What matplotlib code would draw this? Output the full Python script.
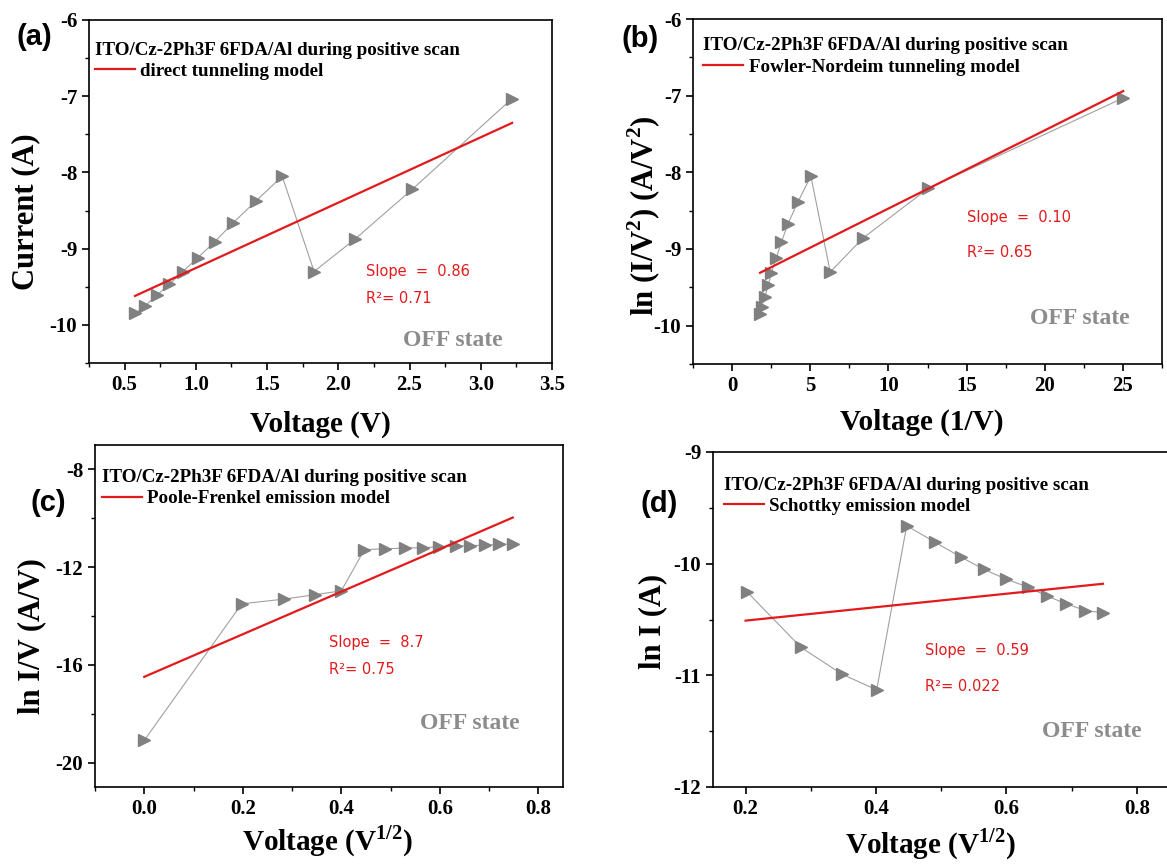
import matplotlib
matplotlib.use('Agg')
import matplotlib.pyplot as plt
from matplotlib.ticker import MultipleLocator, FormatStrFormatter

plt.rcParams['axes.unicode_minus'] = False
plt.rcParams['font.family'] = 'Liberation Serif'
plt.rcParams['font.weight'] = 'bold'
plt.rcParams['mathtext.fontset'] = 'custom'
plt.rcParams['mathtext.rm'] = 'Liberation Serif:bold'
plt.rcParams['mathtext.bf'] = 'Liberation Serif:bold'

# (a) direct tunneling
a_x = [0.573, 0.643, 0.726, 0.812, 0.909, 1.013, 1.132, 1.262, 1.419, 1.606, 1.83, 2.12, 2.52, 3.22]
a_y = [-9.85, -9.75, -9.61, -9.47, -9.30, -9.12, -8.91, -8.66, -8.38, -8.05, -9.30, -8.87, -8.22, -7.03]
a_fit_x = [0.573, 3.22]
a_fit_y = [-9.62, -7.35]

# (b) Fowler-Nordheim
b_x = [1.79, 1.89, 2.10, 2.32, 2.51, 2.82, 3.15, 3.58, 4.20, 5.04, 6.28, 8.36, 12.54, 25.02]
b_y = [-9.85, -9.75, -9.62, -9.47, -9.31, -9.12, -8.91, -8.67, -8.39, -8.05, -9.30, -8.86, -8.21, -7.03]
b_fit_x = [1.79, 25.02]
b_fit_y = [-9.31, -6.94]

# (c) Poole-Frenkel
c_x = [0.0, 0.198, 0.283, 0.346, 0.40, 0.447, 0.489, 0.529, 0.565, 0.599, 0.632, 0.662, 0.692, 0.721, 0.748]
c_y = [-19.09, -13.50, -13.31, -13.13, -12.97, -11.28, -11.25, -11.22, -11.20, -11.17, -11.14, -11.12, -11.10, -11.07, -11.05]
c_fit_x = [0.0, 0.748]
c_fit_y = [-16.49, -9.97]

# (d) Schottky
d_x = [0.2017, 0.285, 0.348, 0.401, 0.447, 0.491, 0.530, 0.565, 0.600, 0.633, 0.662, 0.692, 0.721, 0.748]
d_y = [-10.25, -10.75, -10.99, -11.13, -9.66, -9.81, -9.94, -10.05, -10.14, -10.21, -10.29, -10.36, -10.42, -10.44]
d_fit_x = [0.2, 0.748]
d_fit_y = [-10.51, -10.18]

W, H = 1167, 866
fig = plt.figure(figsize=(W / 100, H / 100), dpi=100)


def box(l, r, t, b):
    return [l / W, 1 - b / H, (r - l) / W, (b - t) / H]


def ftext(x, y, s, **kw):
    fig.text(x / W, 1 - y / H, s, ha='center', va='center', **kw)


panels = [
    dict(rect=box(89, 552, 20, 363), x=a_x, y=a_y, fx=a_fit_x, fy=a_fit_y,
         xlim=(0.25, 3.5), ylim=(-10.5, -6), xmaj=0.5, xmin=0.25, ymaj=1, ymin=0.5, xfmt='%.1f',
         model='direct tunneling model', slope='Slope  =  0.86', r2='R²= 0.71',
         tpos=(0.012, 0.92), spos=(0.599, 0.267, 0.188), opos=(0.678, 0.066),
         tag='(a)', tagxy=(34, 37), ylabel='Current (A)', ylxy=(26, 212),
         xlabel='Voltage (V)', xlxy=(320, 424)),
    dict(rect=box(693, 1162, 19, 364), x=b_x, y=b_y, fx=b_fit_x, fy=b_fit_y,
         xlim=(-2.5, 27.5), ylim=(-10.5, -6), xmaj=5, xmin=2.5, ymaj=1, ymin=0.5, xfmt='%d',
         model='Fowler-Nordeim tunneling model', slope='Slope  =  0.10', r2='R²= 0.65',
         tpos=(0.022, 0.93), spos=(0.585, 0.424, 0.322), opos=(0.719, 0.132),
         tag='(b)', tagxy=(640, 39), ylabel='ln (I/V$^2$) (A/V$^2$)', ylxy=(644, 216),
         xlabel='Voltage (1/V)', xlxy=(922, 422)),
    dict(rect=box(95, 563, 445, 787), x=c_x, y=c_y, fx=c_fit_x, fy=c_fit_y,
         xlim=(-0.1, 0.85), ylim=(-21, -7), xmaj=0.2, xmin=0.1, ymaj=4, ymin=2, xfmt='%.1f',
         model='Poole-Frenkel emission model', slope='Slope  =  8.7', r2='R²= 0.75',
         tpos=(0.014, 0.913), spos=(0.499, 0.422, 0.345), opos=(0.695, 0.186),
         tag='(c)', tagxy=(48, 503), ylabel='ln I/V (A/V)', ylxy=(32, 636),
         xlabel=r'Voltage (V$^{\mathbf{1/2}}$)', xlxy=(328, 841)),
    dict(rect=box(713, 1169.5, 452, 787), x=d_x, y=d_y, fx=d_fit_x, fy=d_fit_y,
         xlim=(0.15, 0.85), ylim=(-12, -9), xmaj=0.2, xmin=0.1, ymaj=1, ymin=0.5, xfmt='%.1f',
         model='Schottky emission model', slope='Slope  =  0.59', r2='R²= 0.022',
         tpos=(0.023, 0.91), spos=(0.464, 0.406, 0.30), opos=(0.72, 0.167),
         tag='(d)', tagxy=(659, 504), ylabel='ln I (A)', ylxy=(653, 621),
         xlabel=r'Voltage (V$^{\mathbf{1/2}}$)', xlxy=(931, 844)),
]

for p in panels:
    ax = fig.add_axes(p['rect'])
    ax.plot(p['x'], p['y'], '-', color='#a0a0a0', linewidth=0.8, zorder=2)
    ax.plot(p['x'], p['y'], '>', color='#808080', markersize=8, linestyle='none', zorder=3)
    ax.plot(p['fx'], p['fy'], '-', color='#e31a1c', linewidth=1.6, zorder=4,
            label=p['model'])
    ax.set_xlim(*p['xlim'])
    ax.set_ylim(*p['ylim'])
    ax.xaxis.set_major_locator(MultipleLocator(p['xmaj']))
    ax.xaxis.set_minor_locator(MultipleLocator(p['xmin']))
    ax.yaxis.set_major_locator(MultipleLocator(p['ymaj']))
    ax.yaxis.set_minor_locator(MultipleLocator(p['ymin']))
    ax.xaxis.set_major_formatter(FormatStrFormatter(p['xfmt']))
    ax.yaxis.set_major_formatter(FormatStrFormatter('%d'))
    ax.tick_params(which='major', direction='out', length=5, width=1.2, labelsize=15)
    ax.tick_params(which='minor', direction='out', length=3, width=1.0)
    for s in ax.spines.values():
        s.set_linewidth(1.2)
    for lab in ax.get_xticklabels() + ax.get_yticklabels():
        lab.set_fontweight('bold')

    leg = ax.legend(loc='upper left', bbox_to_anchor=(p['tpos'][0] - 0.012, p['tpos'][1] + 0.033),
                    title='ITO/Cz-2Ph3F 6FDA/Al during positive scan', alignment='left',
                    frameon=False, fontsize=13.7, title_fontsize=13.7, handlelength=2.1,
                    handletextpad=0.3, borderaxespad=0, borderpad=0.3, labelspacing=0.2)
    leg.get_title().set_fontweight('bold')

    sx, sy, ry = p['spos']
    ax.text(sx, sy, p['slope'], transform=ax.transAxes, color='#e31a1c', fontsize=10.5,
            family='DejaVu Sans', weight='medium', va='center')
    ax.text(sx, ry, p['r2'], transform=ax.transAxes, color='#e31a1c', fontsize=10.5,
            family='DejaVu Sans', weight='medium', va='center')
    ax.text(p['opos'][0], p['opos'][1], 'OFF state', transform=ax.transAxes, color='#8c8c8c',
            fontsize=17, weight='bold', va='center')

    ftext(*p['tagxy'], p['tag'], family='Liberation Sans', fontsize=21, weight='bold')
    ftext(*p['ylxy'], p['ylabel'], rotation=90, fontsize=22, weight='bold')
    ftext(*p['xlxy'], p['xlabel'], fontsize=21, weight='bold')

fig.savefig('out.png', dpi=100)
